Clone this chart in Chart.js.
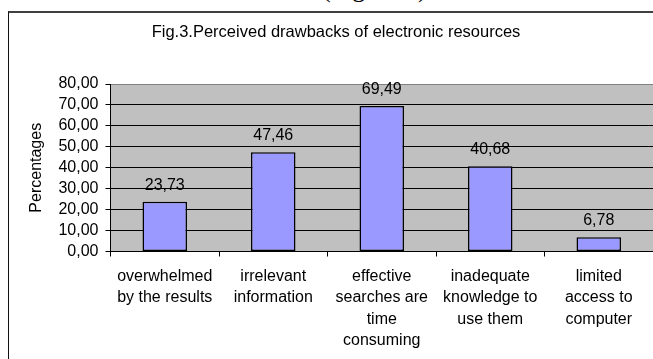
<!DOCTYPE html>
<html>
<head>
<meta charset="utf-8">
<script src="https://cdn.jsdelivr.net/npm/chart.js@4/dist/chart.umd.min.js"></script>
<style>
  html, body { margin: 0; padding: 0; background: #fff; overflow: hidden; }
  #wrap { position: relative; width: 653px; height: 359px; }
  #caption {
    position: absolute; left: 322px; top: -24.5px; margin: 0;
    font: 26px "Liberation Serif", "Times New Roman", serif; line-height: 26px;
    color: #000; white-space: nowrap;
  }
  #frame {
    position: absolute; left: 8px; top: 11px; width: 700px; height: 400px;
    border-top: 2px solid #404040; border-left: 1px solid #111;
  }
  canvas { position: absolute; left: 0; top: 0; }
</style>
</head>
<body>
<div id="wrap">
  <p id="caption">(Figure 3)</p>
  <div id="frame"></div>
  <canvas id="chart" width="653" height="359"></canvas>
</div>
<script>
// Survey responses: share of respondents naming each drawback (%)
const categories = [
  ["overwhelmed", "by the results"],
  ["irrelevant", "information"],
  ["effective", "searches are", "time", "consuming"],
  ["inadequate", "knowledge to", "use them"],
  ["limited", "access to", "computer"]
];
const percentages = [23.73, 47.46, 69.49, 40.68, 6.78];
const yTicks = [0, 10, 20, 30, 40, 50, 60, 70, 80];

const FONT = '"Liberation Sans", Arial, sans-serif';
const fmt = v => Number(v).toFixed(2).replace('.', ',');

// Gray plot background behind the gridlines
const plotBackground = {
  id: 'plotBackground',
  beforeDraw(chart) {
    const { ctx, chartArea: a } = chart;
    ctx.save();
    ctx.fillStyle = '#C0C0C0';
    ctx.fillRect(a.left, a.top, a.right - a.left, a.bottom - a.top);
    ctx.restore();
  }
};

// Value written above each bar
const valueLabels = {
  id: 'valueLabels',
  afterDatasetsDraw(chart) {
    const { ctx } = chart;
    const meta = chart.getDatasetMeta(0);
    const data = chart.data.datasets[0].data;
    ctx.save();
    ctx.font = '16px ' + FONT;
    ctx.fillStyle = '#000';
    ctx.textAlign = 'center';
    ctx.textBaseline = 'alphabetic';
    meta.data.forEach((bar, i) => {
      ctx.fillText(fmt(data[i]), bar.x, bar.y - 12);
    });
    ctx.restore();
  }
};

new Chart(document.getElementById('chart'), {
  type: 'bar',
  data: {
    labels: categories,
    datasets: [{
      data: percentages,
      backgroundColor: '#9999FF',
      borderColor: '#000',
      borderWidth: 1.5,
      borderSkipped: false,
      barPercentage: 0.41,
      categoryPercentage: 1.0
    }]
  },
  options: {
    responsive: false,
    animation: false,
    events: [],
    layout: { padding: { left: 19, right: 0, top: 0, bottom: 0 } },
    plugins: {
      legend: { display: false },
      tooltip: { enabled: false },
      title: {
        display: true,
        text: 'Fig.3.Perceived drawbacks of electronic resources',
        color: '#000',
        font: { family: FONT, size: 16.5, weight: 'normal', lineHeight: 1.2 },
        padding: { top: 22.6, bottom: 41.6 }
      }
    },
    scales: {
      x: {
        offset: true,
        grid: {
          offset: true,
          drawOnChartArea: false,
          drawTicks: true,
          tickLength: 5,
          tickColor: '#000'
        },
        border: { color: '#000', width: 1 },
        ticks: {
          color: '#000',
          font: { family: FONT, size: 16, lineHeight: 1.34 },
          padding: 9,
          maxRotation: 0,
          autoSkip: false
        },
        afterFit(scale) { scale.height = 107.5; }
      },
      y: {
        min: 0,
        max: 80,
        afterBuildTicks(scale) { scale.ticks = yTicks.map(v => ({ value: v })); },
        grid: {
          color: ctx => (ctx.tick && ctx.tick.value === 80) ? '#808080' : '#000',
          tickColor: '#000',
          tickLength: 5,
          lineWidth: 1
        },
        border: { color: '#000', width: 1 },
        ticks: {
          color: '#000',
          font: { family: FONT, size: 16 },
          padding: 7,
          autoSkip: false,
          callback: v => fmt(v)
        },
        title: {
          display: true,
          text: 'Percentages',
          color: '#000',
          font: { family: FONT, size: 16, lineHeight: 1.2 },
          padding: { top: 8.1, bottom: 0 }
        },
        afterFit(scale) { scale.width = 91.5; }
      }
    }
  },
  plugins: [plotBackground, valueLabels]
});
</script>
</body>
</html>
